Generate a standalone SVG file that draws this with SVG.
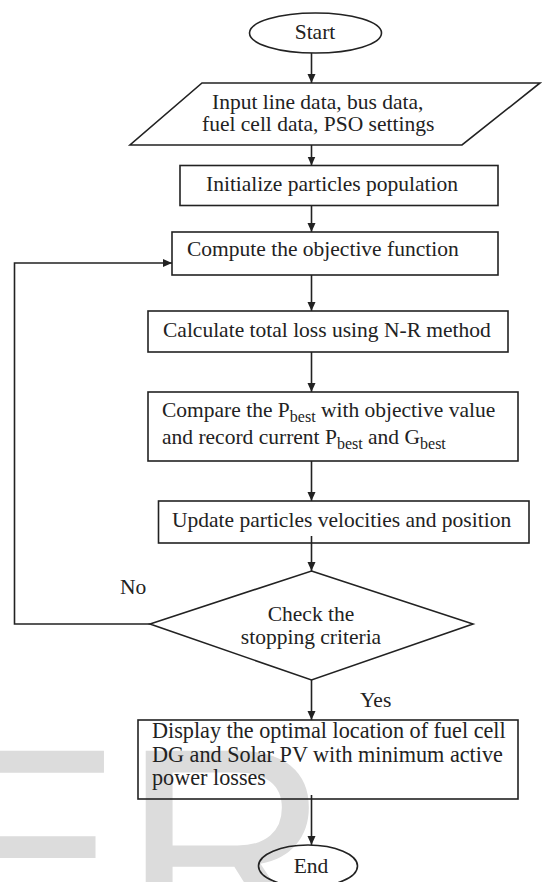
<svg xmlns="http://www.w3.org/2000/svg" width="543" height="882" viewBox="0 0 543 882">
<style>
.shape{fill:none;stroke:#222;stroke-width:1.6}
.conn{fill:none;stroke:#222;stroke-width:1.6}
text{font-family:"Liberation Serif","Times New Roman",serif;font-size:21.5px;fill:#222}
.c{text-anchor:middle}
.sub{font-size:16px}
.big{font-size:22.2px}
.wm{font-family:"Liberation Sans",Arial,sans-serif;font-size:288px;fill:#dcdcdc}
</style>
<defs>
<marker id="ah" markerWidth="10" markerHeight="10" refX="9" refY="5" orient="auto" markerUnits="userSpaceOnUse"><path d="M0,1 L9,5 L0,9 z" fill="#222"/></marker>
</defs>
<rect width="543" height="882" fill="#fff"/>
<text class="wm" x="-70" y="949">ER</text>
<g id="connectors">
<line class="conn" x1="311.5" y1="53" x2="311.5" y2="83" marker-end="url(#ah)"/>
<line class="conn" x1="311.5" y1="145" x2="311.5" y2="165.5" marker-end="url(#ah)"/>
<line class="conn" x1="311.5" y1="205.5" x2="311.5" y2="232" marker-end="url(#ah)"/>
<line class="conn" x1="311.5" y1="275" x2="311.5" y2="311" marker-end="url(#ah)"/>
<line class="conn" x1="311.5" y1="352" x2="311.5" y2="392" marker-end="url(#ah)"/>
<line class="conn" x1="311.5" y1="461" x2="311.5" y2="501" marker-end="url(#ah)"/>
<line class="conn" x1="311.5" y1="536" x2="311.5" y2="571" marker-end="url(#ah)"/>
<line class="conn" x1="311.5" y1="680" x2="311.5" y2="720" marker-end="url(#ah)"/>
<line class="conn" x1="311.5" y1="795" x2="311.5" y2="845" marker-end="url(#ah)"/>
<polyline class="conn" points="150,624 14.5,624 14.5,263 172,263" marker-end="url(#ah)"/>
<text x="120" y="594">No</text>
<text x="360" y="707">Yes</text>
</g>
<g id="start">
<ellipse class="shape" cx="315.5" cy="33" rx="66" ry="20"/>
<text class="c" x="315" y="39">Start</text>
</g>
<g id="input">
<polygon class="shape" points="202,83 540,83 462,145 130,145"/>
<text x="212" y="109">Input line data, bus data,</text>
<text x="202" y="131">fuel cell data, PSO settings</text>
</g>
<g id="init">
<rect class="shape" x="180" y="165.5" width="318" height="40"/>
<text x="206" y="191">Initialize particles population</text>
</g>
<g id="compute">
<rect class="shape" x="172" y="232" width="326" height="43"/>
<text x="187" y="256">Compute the objective function</text>
</g>
<g id="calc">
<rect class="shape" x="148" y="311" width="360" height="41"/>
<text x="163" y="337">Calculate total loss using N-R method</text>
</g>
<g id="compare">
<rect class="shape" x="148" y="392" width="370" height="69"/>
<text x="162" y="417">Compare the P<tspan class="sub" dy="5">best</tspan><tspan dy="-5"> with objective value</tspan></text>
<text x="162" y="444">and record current P<tspan class="sub" dy="5">best</tspan><tspan dy="-5"> and G</tspan><tspan class="sub" dy="5">best</tspan></text>
</g>
<g id="update">
<rect class="shape" x="158.5" y="501" width="370.5" height="42"/>
<text x="172" y="527">Update particles velocities and position</text>
</g>
<g id="check">
<polygon class="shape" points="311.5,571 473,624 311.5,680 150,624"/>
<text class="c" x="311" y="621">Check the</text>
<text class="c" x="311" y="644">stopping criteria</text>
</g>
<g id="display">
<rect class="shape" x="138" y="720" width="380" height="79"/>
<text class="big" x="152" y="738">Display the optimal location of fuel cell</text>
<text class="big" x="152" y="762">DG and Solar PV with minimum active</text>
<text class="big" x="152" y="785">power losses</text>
</g>
<g id="end">
<ellipse class="shape" cx="308" cy="866" rx="49.5" ry="21"/>
<text class="c" x="311" y="873">End</text>
</g>
</svg>
